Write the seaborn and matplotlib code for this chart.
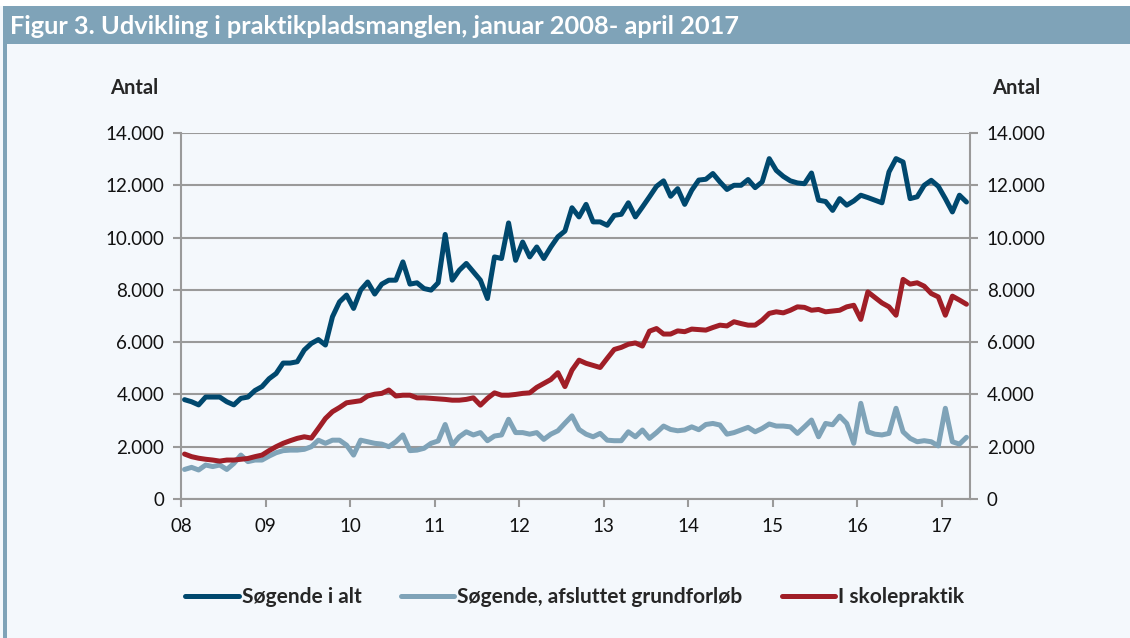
import matplotlib
matplotlib.use("Agg")
import matplotlib.pyplot as plt
from matplotlib.patches import Rectangle
from matplotlib.ticker import FuncFormatter
import seaborn as sns
import numpy as np
import pandas as pd

# Monthly values, January 2008 - April 2017
year_labels = ['08', '09', '10', '11', '12', '13', '14', '15', '16', '17']

soegende_i_alt = [
    3800, 3720, 3600, 3900, 3900, 3900, 3720, 3600, 3850, 3900, 4150, 4300,
    4600, 4800, 5200, 5200, 5250, 5700, 5950, 6100, 5890, 6970, 7540, 7800,
    7290, 7990, 8300, 7840, 8220, 8370, 8370, 9070, 8220, 8270, 8050, 7990,
    8270, 10120, 8370, 8750, 9010, 8690, 8370, 7670, 9260, 9200, 10560, 9130,
    9830, 9260, 9640, 9200, 9640, 10030, 10250, 11140, 10790, 11270, 10600, 10600,
    10470, 10850, 10890, 11330, 10790, 11170, 11560, 11960, 12170, 11580, 11870, 11270,
    11810, 12200, 12230, 12450, 12130, 11840, 12000, 12000, 12220, 11910, 12130, 13020,
    12570, 12340, 12170, 12090, 12060, 12470, 11430, 11380, 11040, 11490, 11240, 11400,
    11620, 11530, 11430, 11330, 12510, 13020, 12890, 11490, 11560, 12000, 12190, 11960,
    11490, 10980, 11620, 11360,
]

soegende_grundforloeb = [
    1130, 1210, 1110, 1300, 1240, 1300, 1130, 1360, 1680, 1430, 1490, 1490,
    1640, 1770, 1850, 1870, 1870, 1900, 2000, 2250, 2130, 2250, 2250, 2060,
    1680, 2250, 2190, 2130, 2100, 2000, 2190, 2450, 1850, 1870, 1940, 2130,
    2220, 2850, 2060, 2380, 2570, 2450, 2540, 2230, 2410, 2450, 3050, 2540,
    2540, 2480, 2540, 2280, 2480, 2610, 2900, 3180, 2660, 2480, 2380, 2510,
    2250, 2230, 2230, 2570, 2380, 2640, 2320, 2540, 2790, 2660, 2610, 2640,
    2760, 2650, 2850, 2890, 2830, 2480, 2540, 2640, 2740, 2570, 2700, 2870,
    2790, 2790, 2760, 2510, 2760, 3020, 2380, 2890, 2840, 3170, 2890, 2130,
    3660, 2570, 2480, 2450, 2510, 3470, 2570, 2320, 2190, 2230, 2190, 2030,
    3470, 2190, 2100, 2360,
]

i_skolepraktik = [
    1720, 1620, 1560, 1520, 1490, 1450, 1490, 1490, 1520, 1550, 1620, 1680,
    1850, 2000, 2130, 2230, 2320, 2380, 2330, 2700, 3080, 3340, 3500, 3680,
    3720, 3760, 3940, 4010, 4040, 4170, 3940, 3970, 3970, 3870, 3870, 3850,
    3830, 3810, 3780, 3780, 3810, 3870, 3590, 3850, 4060, 3970, 3970, 4000,
    4040, 4060, 4270, 4420, 4570, 4830, 4300, 4930, 5310, 5190, 5110, 5030,
    5380, 5720, 5800, 5920, 5970, 5850, 6420, 6520, 6310, 6310, 6430, 6400,
    6500, 6480, 6460, 6560, 6650, 6620, 6780, 6710, 6650, 6650, 6840, 7100,
    7160, 7120, 7220, 7350, 7330, 7220, 7250, 7160, 7190, 7220, 7350, 7410,
    6870, 7920, 7710, 7500, 7350, 7030, 8400, 8220, 8270, 8140, 7860, 7730,
    7030, 7760, 7610, 7450,
]

series_names = ['Søgende i alt', 'Søgende, afsluttet grundforløb', 'I skolepraktik']
colors = ['#00486E', '#7FA3B8', '#A01E27']

n = len(soegende_i_alt)
df = pd.DataFrame({
    'maaned': np.arange(n) + 0.5,
    series_names[0]: soegende_i_alt,
    series_names[1]: soegende_grundforloeb,
    series_names[2]: i_skolepraktik,
}).melt(id_vars='maaned', var_name='serie', value_name='antal')

sns.set_theme(style='white')
plt.rcParams['font.family'] = ['Lato', 'DejaVu Sans']

bg = '#F4F8FC'
grid_col = '#9A9A9A'

fig = plt.figure(figsize=(11.3, 6.38), dpi=100, facecolor=bg)
ax = fig.add_axes([181 / 1130, 1 - 499 / 638, 789 / 1130, 366 / 638])
ax.set_facecolor(bg)

sns.lineplot(data=df, x='maaned', y='antal', hue='serie', hue_order=series_names,
             palette=colors, linewidth=3.6, legend=False, ax=ax)
for line in ax.lines:
    line.set_solid_joinstyle('round')
    line.set_solid_capstyle('round')

ax.set_xlim(0, n)
ax.set_ylim(0, 14000)
ax.set_xticks(np.arange(0, n, 12))
ax.set_xticklabels(year_labels)
ax.set_yticks(np.arange(0, 14001, 2000))
ax.yaxis.set_major_formatter(FuncFormatter(lambda v, p: f'{int(v):,}'.replace(',', '.')))
ax.set_xlabel('')
ax.set_ylabel('')

ax.yaxis.grid(True, color=grid_col, linewidth=1.5)
ax.set_axisbelow(True)
ax.spines['top'].set_visible(False)
for s in ['left', 'right', 'bottom']:
    ax.spines[s].set_color(grid_col)
    ax.spines[s].set_linewidth(1.5)

ax.tick_params(axis='both', direction='out', length=6, width=1.5, color=grid_col,
               labelsize=13.5, labelcolor='#111111')
ax.tick_params(axis='y', left=True, right=True, labelleft=True, labelright=True, pad=6)
ax.tick_params(axis='x', bottom=True, pad=8)

# header band and left border
fig.patches.append(Rectangle((0, 1 - 6 / 638), 1, 6 / 638, transform=fig.transFigure,
                             facecolor='white', edgecolor='none'))
fig.patches.append(Rectangle((3 / 1130, 1 - 44 / 638), 1, 38 / 638, transform=fig.transFigure,
                             facecolor='#7FA3B8', edgecolor='none'))
fig.patches.append(Rectangle((3 / 1130, 0), 4 / 1130, 1 - 44 / 638, transform=fig.transFigure,
                             facecolor='#7FA3B8', edgecolor='none'))

fig.text(10 / 1130, 1 - 26 / 638, 'Figur 3. Udvikling i praktikpladsmanglen, januar 2008- april 2017',
         color='white', fontweight='bold', fontsize=18.3, va='center', ha='left')
fig.text(110 / 1130, 1 - 88 / 638, 'Antal', fontweight='bold', fontsize=14.5, va='center', ha='left')
fig.text(1040 / 1130, 1 - 88 / 638, 'Antal', fontweight='bold', fontsize=14.5, va='center', ha='right')

leg = fig.legend(handles=ax.lines[:3], labels=series_names, loc='center',
                 bbox_to_anchor=(575 / 1130, 1 - 597 / 638), ncol=3, frameon=False,
                 handlelength=2.55, handletextpad=0.15, columnspacing=1.9,
                 prop={'weight': 'bold', 'size': 15})

fig.savefig('out.png', dpi=100, facecolor=bg)
